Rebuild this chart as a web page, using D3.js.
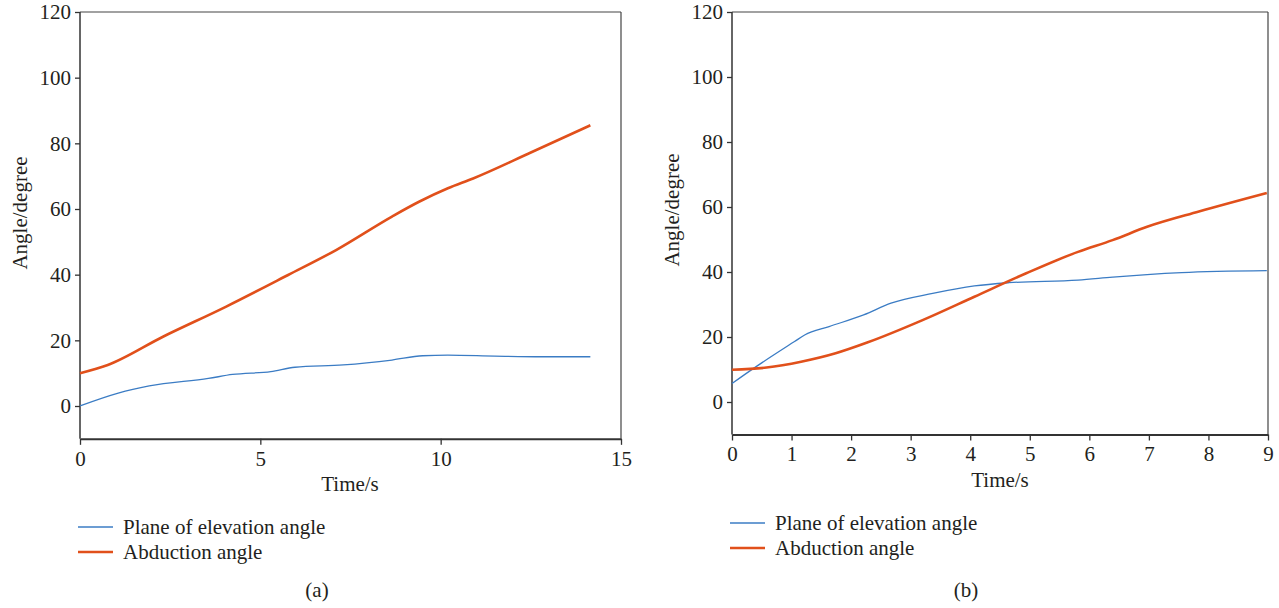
<!DOCTYPE html>
<html><head><meta charset="utf-8">
<script src="https://cdn.jsdelivr.net/npm/d3@7/dist/d3.min.js"></script>
<style>body{margin:0;background:#fff}svg{display:block}text{font-family:"Liberation Serif","Times New Roman",serif;fill:#231f20}</style>
</head><body><svg id="c" width="1279" height="608"></svg>
<script>
// Panel (a)
const aTime = [0,0.77,2.3,4.04,5.77,7.1,8.65,9.4,10.2,10.9,12.5,14.15];
const aAbduction = [10,12.5,21.1,30.2,39.9,47.5,57.7,62.2,66.3,69.3,77.2,85.5];
const aPlaneTime = [0,1.06,1.92,3.56,4.23,5.29,5.96,7.3,8.65,9.5,10.2,11.5,12.8,14.15];
const aPlane = [0,3.9,6.1,8.4,9.6,10.5,11.8,12.5,14.0,15.3,15.5,15.2,15.0,15.0];
const aXTicks = [0,5,10,15];
// Panel (b)
const bTime = [0,0.58,1.16,1.74,2.27,3.2,4.07,4.94,5.81,6.39,6.97,7.84,8.98];
const bAbduction = [9.9,10.6,12.4,15,18.3,25.2,32.4,39.6,46.2,49.8,53.9,58.6,64.3];
const bPlaneTime = [0,0.35,1.05,1.22,1.63,2.21,2.67,3.37,4.07,4.65,5.81,6.39,6.97,7.55,8.98];
const bPlane = [5.7,10.2,18.6,20.6,23.2,26.8,30.4,33.4,35.7,36.7,37.5,38.4,39.2,39.8,40.4];
const bXTicks = [0,1,2,3,4,5,6,7,8,9];
const yTicks = [0,20,40,60,80,100,120];
const seriesNames = ["Plane of elevation angle","Abduction angle"];
const panelLabels = ["(a)","(b)"];

const svg = d3.select("#c");
const BLUE = "#3b7cc4", ORANGE = "#e1501b";
const FS = 21;
const FONT = "'Liberation Serif','Times New Roman',serif";

const panels = [
  {x0:80,x1:621,y0:406,yTop:12,xMax:15,ticks:aXTicks,
   plane:{t:aPlaneTime,v:aPlane},abd:{t:aTime,v:aAbduction},
   ylabX:20,ylabY:213,xlabX:350,xlabY:491,legX:78,legY:527,lab:panelLabels[0],labX:317},
  {x0:732,x1:1268,y0:402,yTop:12,xMax:9,ticks:bXTicks,
   plane:{t:bPlaneTime,v:bPlane},abd:{t:bTime,v:bAbduction},
   ylabX:672,ylabY:210,xlabX:1000,xlabY:487,legX:730,legY:523,lab:panelLabels[1],labX:966}
];

panels.forEach(p=>{
  const x = d3.scaleLinear().domain([0,p.xMax]).range([p.x0,p.x1]);
  const y = d3.scaleLinear().domain([0,120]).range([p.y0,p.yTop]);
  const yBot = y(-10);
  const g = svg.append("g");
  // frame top & right
  g.append("line").attr("x1",p.x0).attr("x2",p.x1).attr("y1",p.yTop).attr("y2",p.yTop).attr("stroke","#444").attr("stroke-width",1.2);
  g.append("line").attr("x1",p.x1).attr("x2",p.x1).attr("y1",p.yTop).attr("y2",yBot).attr("stroke","#444").attr("stroke-width",1.2);
  // y axis
  const ya = g.append("g").attr("transform",`translate(${p.x0},0)`)
    .call(d3.axisLeft(y).tickValues(yTicks).tickSize(5).tickPadding(4).tickSizeOuter(0));
  ya.attr("font-family",FONT).attr("font-size",FS);
  ya.select(".domain").attr("d",`M0,${p.yTop}V${yBot}`).attr("stroke","#333").attr("stroke-width",1.5);
  ya.selectAll(".tick line").attr("stroke","#333").attr("stroke-width",1.3);
  ya.selectAll("text").attr("fill","#231f20");
  // x axis
  const xa = g.append("g").attr("transform",`translate(0,${yBot})`)
    .call(d3.axisBottom(x).tickValues(p.ticks).tickFormat(d3.format("d")).tickSize(6).tickPadding(6).tickSizeOuter(0));
  xa.attr("font-family",FONT).attr("font-size",FS);
  xa.select(".domain").attr("stroke","#333").attr("stroke-width",2);
  xa.selectAll(".tick line").attr("stroke","#333").attr("stroke-width",1.3);
  xa.selectAll("text").attr("fill","#231f20");
  // lines
  const line = d3.line().x(d=>x(d[0])).y(d=>y(d[1])).curve(d3.curveMonotoneX);
  g.append("path").datum(d3.zip(p.plane.t,p.plane.v)).attr("d",line)
    .attr("fill","none").attr("stroke",BLUE).attr("stroke-width",1.3);
  g.append("path").datum(d3.zip(p.abd.t,p.abd.v)).attr("d",line)
    .attr("fill","none").attr("stroke",ORANGE).attr("stroke-width",2.6);
  // labels
  g.append("text").attr("x",p.xlabX).attr("y",p.xlabY).attr("text-anchor","middle").attr("font-size",FS).text("Time/s");
  g.append("text").attr("transform",`translate(${p.ylabX},${p.ylabY}) rotate(-90)`).attr("text-anchor","middle")
    .attr("dy","0.35em").attr("font-size",FS).text("Angle/degree");
  // legend
  [[BLUE,1.3],[ORANGE,2.6]].forEach((s,i)=>{
    const ly = p.legY + i*25;
    g.append("line").attr("x1",p.legX).attr("x2",p.legX+35).attr("y1",ly).attr("y2",ly).attr("stroke",s[0]).attr("stroke-width",s[1]);
    g.append("text").attr("x",p.legX+45).attr("y",ly).attr("dy","0.32em").attr("font-size",FS).text(seriesNames[i]);
  });
  g.append("text").attr("x",p.labX).attr("y",590).attr("dy","0.35em").attr("text-anchor","middle").attr("font-size",FS).text(p.lab);
});
</script></body></html>
